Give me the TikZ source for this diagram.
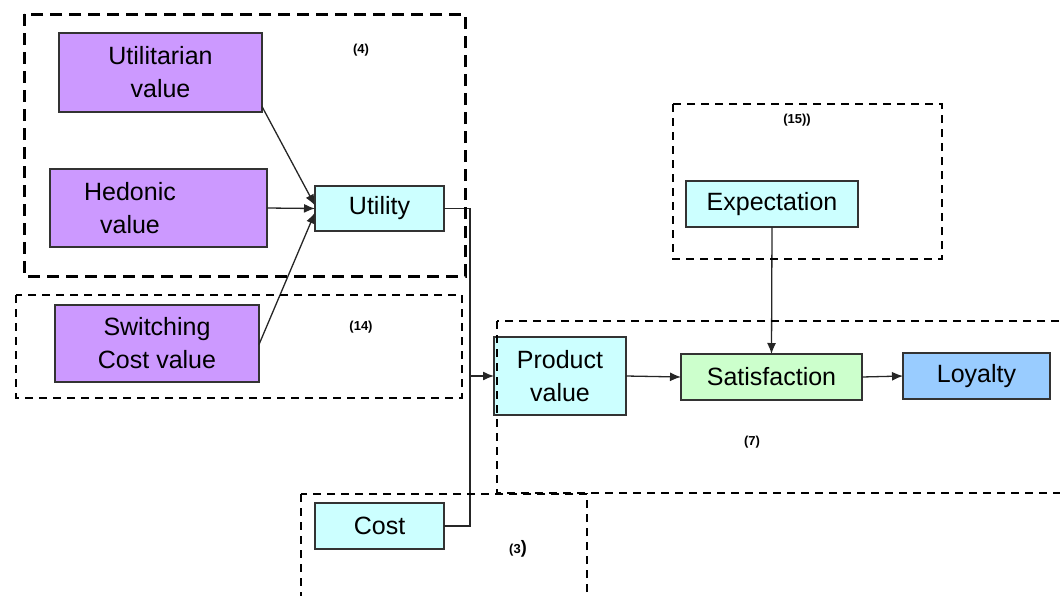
\documentclass[tikz,border=0pt]{standalone}
\usepackage{fontspec}
\setmainfont{Liberation Sans}
\usetikzlibrary{arrows.meta}
\definecolor{purplefill}{HTML}{CC99FF}
\definecolor{cyanfill}{HTML}{CCFFFF}
\definecolor{greenfill}{HTML}{CCFFCC}
\definecolor{bluefill}{HTML}{99CCFF}
\definecolor{edgegray}{HTML}{333333}
\tikzset{
  box/.style={draw=edgegray, line width=1.4pt, inner sep=0pt, outer sep=0pt,
    align=center, font=\fontsize{25}{33}\selectfont},
  txt/.style={inner sep=0pt, align=center, font=\fontsize{25}{33}\selectfont},
  tag/.style={inner sep=0pt, font=\fontsize{13}{15}\selectfont\bfseries},
  link/.style={line width=1.3pt, draw=black!85},
  arr/.style={link, -{Latex[length=11pt,width=9pt]}},
  groupthick/.style={line width=3pt, dash pattern=on 12pt off 7pt},
  groupthin/.style={line width=2.2pt, dash pattern=on 8pt off 6pt},
}
\begin{document}
\begin{tikzpicture}[x=1pt,y=-1pt]
\useasboundingbox (0,0) rectangle (1060,595);
\clip (0,0) rectangle (1060,595);

% concept boxes
\node[box, fill=purplefill, minimum width=203pt, minimum height=79pt] (utilv) at (160.5,72.5) {Utilitarian\\value};
\node[box, fill=purplefill, minimum width=217pt, minimum height=78pt] (hedv) at (158.5,208) {};
\node[txt] (hedt) at (130,208) {Hedonic\\value};
\node[box, fill=purplefill, minimum width=204pt, minimum height=77pt] (swv) at (157,343.5) {Switching\\Cost value};
\node[box, fill=cyanfill, minimum width=129pt, minimum height=45pt] (util) at (379.5,208.5) {Utility};
\node[box, fill=cyanfill, minimum width=129pt, minimum height=46pt] (cost) at (379.5,526) {Cost};
\node[box, fill=cyanfill, minimum width=132pt, minimum height=78pt] (prod) at (560,376) {Product\\value};
\node[box, fill=cyanfill, minimum width=172pt, minimum height=46pt] (expc) at (772,204) {Expectation};
\node[box, fill=greenfill, minimum width=181pt, minimum height=46pt] (sat) at (771.5,377) {Satisfaction};
\node[box, fill=bluefill, minimum width=147pt, minimum height=46pt] (loy) at (976.5,376) {Loyalty};

% connectors
\coordinate (bus) at (470,376);
\draw[arr] ([yshift=-34pt]utilv.east) -- ([yshift=3pt]util.west);
\draw[arr] (hedv.east) -- (util.west);
\draw[arr] ([yshift=-1pt]swv.east) -- ([yshift=-4pt]util.west);
\draw[link] (util.east) -| (bus) |- (cost.east);
\draw[arr] (bus) -- (prod.west);
\draw[arr] (prod.east) -- (sat.west);
\draw[arr] (sat.east) -- (loy.west);
\draw[arr] (expc.south) -- (sat.north);

% dashed groupings
\draw[groupthick] (24,14) rectangle (465,276);
\draw[groupthin] (16,295) rectangle (462,398);
\draw[groupthin] (673,104) rectangle (942,259);
\draw[groupthin] (497,321) rectangle (1075,493);
\draw[groupthin] (301,494) rectangle (587,610);

% group labels
\node[tag] (t4) at (361,50) {(4)};
\node[tag] (t14) at (361,327) {(14)};
\node[tag] (t15) at (797,120) {(15))};
\node[tag] (t7) at (752,442) {(7)};
\node[tag] (t3) at (518,549) {(3\fontsize{18}{20}\selectfont)};
\end{tikzpicture}
\end{document}
